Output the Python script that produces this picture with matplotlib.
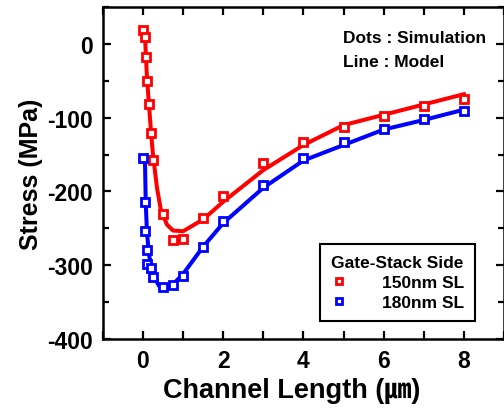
import numpy as np
import matplotlib
import matplotlib.pyplot as plt
from matplotlib.ticker import MultipleLocator
matplotlib.use('Agg')

plt.rcParams['font.family'] = ['Liberation Sans', 'Noto Sans CJK JP']
plt.rcParams['font.weight'] = 'bold'
plt.rcParams['axes.unicode_minus'] = False

# simulation points (dots)
sim_x_150 = [0.0, 0.05, 0.075, 0.1, 0.15, 0.2, 0.25, 0.5, 0.75, 1.0, 1.5, 2, 3, 4, 5, 6, 7, 8]
sim_y_150 = [19, 10, -18, -50, -81, -121, -157, -230, -266, -264, -236, -206, -162, -133, -112, -97, -84, -75]
sim_x_180 = [0.0, 0.05, 0.05, 0.1, 0.1, 0.2, 0.25, 0.5, 0.75, 1.0, 1.5, 2, 3, 4, 5, 6, 7, 8]
sim_y_180 = [-155, -214, -254, -280, -299, -304, -316, -329, -327, -314, -275, -240, -191, -155, -133, -115, -101, -91]

# model curves (lines)
mod_x_150 = [0.05, 0.1, 0.15, 0.2, 0.25, 0.35, 0.45, 0.6, 0.75, 1.0, 1.5, 2, 3, 4, 5, 6, 7, 8]
mod_y_150 = [12, -45, -82, -118, -150, -195, -226, -245, -253, -254, -238, -214, -171, -137, -110, -96, -82, -68]
mod_x_180 = [0.05, 0.07, 0.1, 0.15, 0.2, 0.3, 0.4, 0.5, 0.75, 1.0, 1.5, 2, 3, 4, 5, 6, 7, 8]
mod_y_180 = [-155, -215, -255, -285, -300, -318, -328, -332, -326, -312, -275, -243, -195, -158, -137, -116, -103, -89]

fig = plt.figure(figsize=(5.04, 4.10), dpi=100)
ax = fig.add_axes([0.204, 0.171, 0.796, 0.809])

ax.plot(mod_x_150, mod_y_150, color='#ff0000', lw=2.9, zorder=2)
ax.plot(mod_x_180, mod_y_180, color='#0000ff', lw=2.9, zorder=2)
ax.plot(sim_x_150, sim_y_150, 's', ls='none', color='#ff0000', mfc='white', mew=2.0, ms=5.5,
        label='150nm SL', zorder=3)
ax.plot(sim_x_180, sim_y_180, 's', ls='none', color='#0000ff', mfc='white', mew=2.0, ms=5.5,
        label='180nm SL', zorder=3)

ax.set_xlim(-1, 9)
ax.set_ylim(-400, 50)
ax.xaxis.set_major_locator(MultipleLocator(2))
ax.xaxis.set_minor_locator(MultipleLocator(1))
ax.yaxis.set_major_locator(MultipleLocator(100))
ax.yaxis.set_minor_locator(MultipleLocator(50))
ax.tick_params(which='both', direction='in', top=True, right=True, width=1.6, labelsize=16.5, pad=7)
ax.tick_params(which='major', length=6)
ax.tick_params(axis='y', which='minor', length=4)
ax.tick_params(axis='x', which='minor', length=6)
for s in ax.spines.values():
    s.set_linewidth(1.8)

ax.set_xlabel('Channel Length (㎛)', fontsize=19.5, fontweight='bold', labelpad=0)
ax.xaxis.set_label_coords(0.47, -0.115)
ax.set_ylabel('Stress (MPa)', fontsize=18, fontweight='bold', labelpad=3)

ax.text(0.598, 0.91, 'Dots : Simulation', transform=ax.transAxes, fontsize=12.5, fontweight='bold', va='center')
ax.text(0.598, 0.837, 'Line : Model', transform=ax.transAxes, fontsize=12.5, fontweight='bold', va='center')

leg = ax.legend(title='Gate-Stack Side', loc='lower right', bbox_to_anchor=(0.928, 0.055),
                fontsize=12.5, title_fontproperties={'weight': 'bold', 'size': 12.5},
                fancybox=False, edgecolor='black', framealpha=1, markerscale=0.75,
                handlelength=1.0, handletextpad=2.0, borderpad=0.6, labelspacing=0.3,
                borderaxespad=0)
leg.get_frame().set_linewidth(1.5)

fig.savefig('out.png', dpi=100)
